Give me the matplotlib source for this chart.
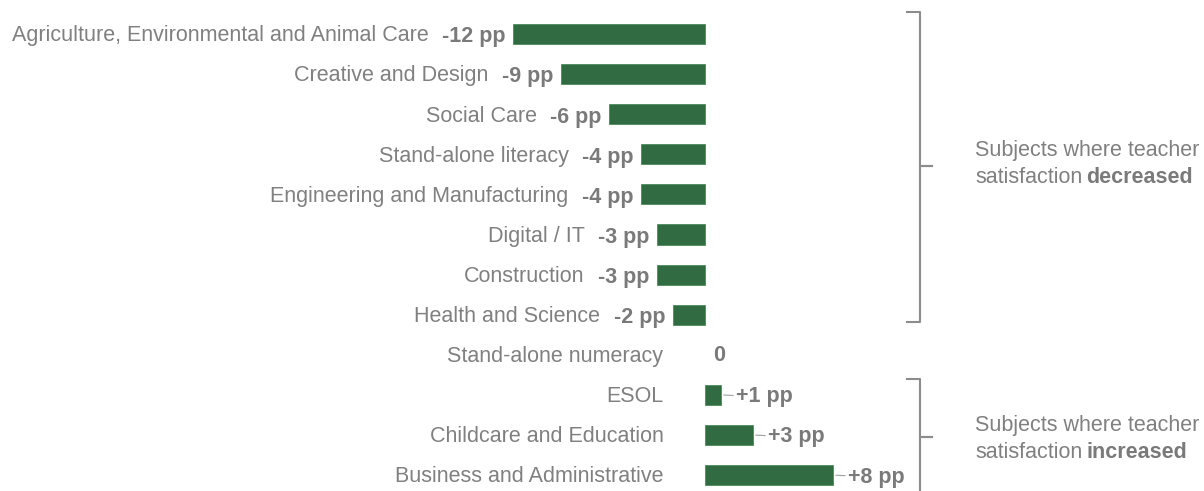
import matplotlib.pyplot as plt

plt.rcParams['font.family'] = ['Liberation Sans', 'DejaVu Sans']

subjects = [
    'Agriculture, Environmental and Animal Care',
    'Creative and Design',
    'Social Care',
    'Stand-alone literacy',
    'Engineering and Manufacturing',
    'Digital / IT',
    'Construction',
    'Health and Science',
    'Stand-alone numeracy',
    'ESOL',
    'Childcare and Education',
    'Business and Administrative',
]
change_pp = [-12, -9, -6, -4, -4, -3, -3, -2, 0, 1, 3, 8]

GREEN = '#316b41'
GREY = '#808080'
VAL_GREY = '#7a7a7a'

fig = plt.figure(figsize=(12.04, 4.91), dpi=100)
ax = fig.add_axes([0, 0, 1, 1])
ax.set_xlim(-705 / 16, (1204 - 705) / 16)
ax.set_ylim((491 - 34) / 40.1, -34 / 40.1)
ax.axis('off')

ypos = list(range(len(subjects)))
edge_w = [0.6 if v != 0 else 0 for v in change_pp]
ax.barh(ypos, change_pp, height=0.5, color=GREEN, edgecolor='#4f8a5c', linewidth=edge_w)

for i, (name, v) in enumerate(zip(subjects, change_pp)):
    if v < 0:
        lab = ax.text(v - 0.5, i + 0.07, f'{v} pp', ha='right', va='center',
                      fontsize=15.5, fontweight='bold', color=VAL_GREY)
        ax.annotate(name, xy=(0, 0.5), xycoords=lab, xytext=(-13, 1),
                    textcoords='offset pixels', ha='right', va='center',
                    fontsize=15.5, color=GREY)
    else:
        if v == 0:
            ax.text(0.5, i + 0.02, '0', ha='left', va='center',
                    fontsize=15.5, fontweight='bold', color=VAL_GREY)
        else:
            ax.annotate(f'+{v} pp', xy=(v, i), xytext=(15, -2),
                        textcoords='offset pixels', ha='left', va='center',
                        fontsize=15.5, fontweight='bold', color=VAL_GREY,
                        arrowprops=dict(arrowstyle='-', color='#a0a0a0', lw=0.8,
                                        shrinkA=0, shrinkB=2))
        ax.text(-2.6, i + 0.04, name, ha='right', va='center',
                fontsize=15.5, color=GREY)


def brace(top, tip, bottom, x=13.45, hook=0.8, nose=0.75):
    ax.plot([x - hook, x, x, x + nose], [top, top, tip, tip],
            color='#8c8c8c', lw=1.5, solid_joinstyle='round')
    ax.plot([x + nose, x, x, x - hook], [tip, tip, bottom, bottom],
            color='#8c8c8c', lw=1.5, solid_joinstyle='round')


brace(-0.55, 3.3, 7.18)
brace(8.6, 10.05, 11.8)


def group_note(y, word):
    ax.text(16.875, y, 'Subjects where teacher', ha='left', va='center',
            fontsize=15.5, color=GREY)
    t = ax.text(16.875, y + 0.67, 'satisfaction', ha='left', va='center',
                fontsize=15.5, color=GREY)
    ax.annotate(word, xy=(1, 0), xycoords=t, xytext=(4, 0),
                textcoords='offset pixels', ha='left', va='bottom',
                fontsize=15.5, fontweight='bold', color=VAL_GREY)


group_note(2.9, 'decreased')
group_note(9.76, 'increased')

fig.savefig('out.png', dpi=100)
